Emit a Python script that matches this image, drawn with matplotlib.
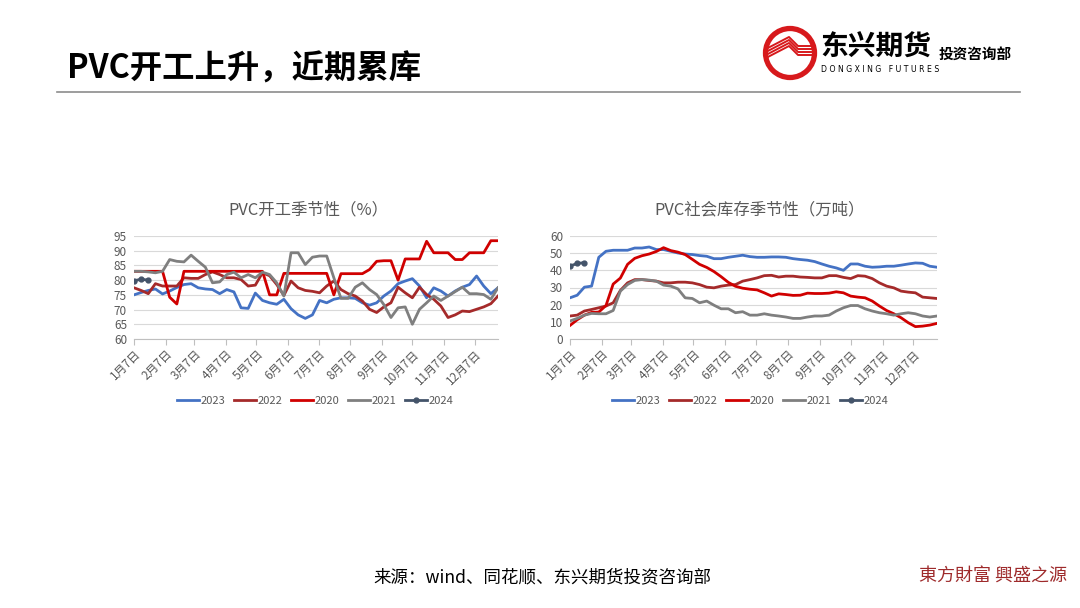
import numpy as np
import matplotlib
matplotlib.use("Agg")
import matplotlib.pyplot as plt
from matplotlib.patches import Circle

plt.rcParams['font.family'] = ['Noto Sans CJK SC', 'DejaVu Sans']

# x axis: weeks counted in days from 1月7日
week_days = np.arange(52) * 7
month_ticks = [0, 31, 59, 90, 120, 151, 181, 212, 243, 273, 304, 334]
month_labels = ['1月7日', '2月7日', '3月7日', '4月7日', '5月7日', '6月7日',
                '7月7日', '8月7日', '9月7日', '10月7日', '11月7日', '12月7日']

years = ['2023', '2022', '2020', '2021', '2024']
colors = ['#4472C4', '#A52A2A', '#D00000', '#7F7F7F', '#44546A']

# PVC开工率 (%)
op_2023 = [75.0, 75.8, 76.5, 77.0, 75.3, 76.3, 77.5, 78.5, 78.8, 77.4,
           77.0, 76.8, 75.4, 76.8, 76.0, 70.6, 70.4, 75.6, 73.1, 72.3,
           71.8, 73.5, 70.3, 68.2, 67.0, 68.2, 73.1, 72.3, 73.5, 74.0,
           74.0, 73.8, 72.3, 71.5, 72.3, 74.6, 76.3, 78.8, 79.7, 80.5,
           78.0, 74.0, 77.4, 76.3, 74.6, 76.3, 77.6, 78.5, 81.4, 78.0,
           75.4, 77.4]
op_2022 = [77.4, 76.5, 75.4, 78.8, 78.0, 78.0, 78.0, 80.8, 80.6, 80.6,
           81.9, 82.8, 81.9, 80.8, 80.8, 80.2, 78.0, 78.3, 82.5, 81.5,
           78.5, 74.8, 79.7, 77.4, 76.5, 76.2, 75.7, 78.0, 79.7, 76.8,
           75.4, 74.6, 72.9, 70.1, 69.0, 70.9, 72.3, 77.6, 75.7, 74.0,
           77.6, 75.1, 73.5, 71.2, 67.3, 68.2, 69.5, 69.3, 70.1, 70.9,
           72.0, 74.6]
op_2020 = [83.0, 83.0, 83.0, 83.0, 83.0, 74.2, 71.9, 83.0, 83.0, 83.0,
           83.0, 83.0, 83.0, 83.0, 83.0, 83.0, 83.0, 83.0, 83.0, 75.0,
           75.0, 82.3, 82.3, 82.3, 82.3, 82.3, 82.3, 82.3, 75.0, 82.2,
           82.2, 82.2, 82.2, 83.6, 86.4, 86.6, 86.6, 80.0, 87.2, 87.2,
           87.2, 93.2, 89.3, 89.3, 89.3, 87.0, 87.0, 89.3, 89.3, 89.3,
           93.4, 93.4]
op_2021 = [83.0, 83.0, 82.8, 82.5, 83.0, 87.0, 86.4, 86.2, 88.5, 86.4,
           84.4, 79.1, 79.4, 81.9, 82.7, 80.8, 81.9, 80.8, 82.7, 81.9,
           79.1, 74.6, 89.3, 89.3, 85.3, 87.8, 88.2, 88.2, 80.8, 73.8,
           73.8, 77.6, 79.1, 76.8, 75.1, 71.7, 67.3, 70.6, 70.9, 65.0,
           70.1, 72.3, 74.6, 73.1, 74.6, 76.1, 77.6, 75.4, 75.4, 75.1,
           73.5, 77.4]
op_2024 = [79.8, 80.3, 80.0]

# PVC社会库存 (万吨)
inv_2023 = [24.0, 25.5, 30.2, 30.8, 47.6, 51.1, 51.7, 51.7, 51.7, 53.0,
            53.0, 53.6, 52.1, 52.1, 51.1, 50.1, 49.5, 49.2, 48.6, 48.2,
            46.8, 46.8, 47.6, 48.2, 48.8, 48.0, 47.6, 47.6, 47.8, 47.8,
            47.6, 46.8, 46.3, 45.9, 45.1, 43.7, 42.4, 41.4, 40.0, 43.7,
            43.7, 42.4, 41.8, 42.0, 42.4, 42.4, 43.0, 43.7, 44.3, 44.1,
            42.4, 41.8]
inv_2022 = [13.4, 13.9, 16.3, 17.2, 18.2, 19.2, 21.1, 28.3, 32.7, 34.6,
            34.6, 34.1, 33.7, 32.7, 32.7, 33.1, 33.1, 32.7, 31.7, 30.2,
            29.8, 30.8, 31.4, 31.7, 33.7, 34.6, 35.6, 36.9, 37.1, 36.1,
            36.6, 36.6, 36.1, 35.9, 35.6, 35.6, 36.9, 36.9, 35.9, 35.2,
            36.9, 36.6, 35.2, 32.7, 30.8, 29.8, 27.9, 27.3, 26.9, 24.4,
            24.0, 23.6]
inv_2020 = [7.9, 11.2, 13.9, 15.5, 15.7, 19.5, 32.0, 35.5, 43.5, 47.0,
            48.5, 49.5, 51.0, 53.2, 51.5, 50.6, 49.2, 46.4, 43.5, 41.7,
            39.3, 36.3, 33.0, 30.7, 29.6, 29.0, 28.6, 26.9, 25.0, 26.3,
            25.9, 25.4, 25.5, 26.7, 26.5, 26.5, 26.7, 27.5, 26.9, 25.0,
            24.4, 24.0, 22.1, 19.2, 16.6, 14.7, 12.4, 9.5, 7.2, 7.5,
            8.1, 9.1]
inv_2021 = [10.5, 12.0, 13.9, 14.9, 14.7, 14.7, 16.6, 27.9, 31.7, 34.1,
            34.6, 34.3, 33.7, 31.4, 30.8, 29.2, 24.0, 23.6, 21.1, 22.1,
            19.7, 17.6, 17.6, 15.3, 15.9, 13.9, 13.9, 14.7, 13.9, 13.4,
            12.8, 12.0, 12.0, 12.8, 13.4, 13.4, 13.9, 16.3, 18.2, 19.5,
            19.5, 17.6, 16.3, 15.3, 14.7, 13.9, 14.7, 15.3, 14.7, 13.4,
            12.8, 13.4]
inv_2024 = [42.5, 44.0, 44.5]

W, H = 1080, 608
fig = plt.figure(figsize=(W / 100, H / 100), dpi=100)
fig.patch.set_facecolor('white')

txt_gray = '#595959'


def px_axes(x0, y0, x1, y1):
    # pixel box (top-left origin) -> figure axes
    return fig.add_axes([x0 / W, 1 - y1 / H, (x1 - x0) / W, (y1 - y0) / H])


def seasonal(ax, series, ylim, yticks):
    for name, vals, c in zip(years, series, colors):
        if name == '2024':
            ax.plot(week_days[:len(vals)], vals, color=c, lw=2.0,
                    marker='o', ms=3.5, label=name, zorder=5)
        else:
            ax.plot(week_days[:len(vals)], vals, color=c, lw=2.0, label=name)
    ax.set_xlim(0, 357)
    ax.set_ylim(*ylim)
    ax.set_yticks(yticks)
    ax.set_xticks(month_ticks)
    ax.set_xticklabels(month_labels, rotation=45, ha='right',
                       rotation_mode='anchor')
    ax.grid(axis='y', color='#D9D9D9', lw=0.8)
    ax.set_axisbelow(True)
    for s in ['top', 'right', 'left']:
        ax.spines[s].set_visible(False)
    ax.spines['bottom'].set_color('#BFBFBF')
    ax.tick_params(axis='y', length=0, pad=5, labelsize=8.5, labelcolor=txt_gray)
    ax.tick_params(axis='x', length=4, color='#BFBFBF', pad=2,
                   labelsize=8.5, labelcolor=txt_gray)


ax1 = px_axes(134, 236, 498, 339)
seasonal(ax1, [op_2023, op_2022, op_2020, op_2021, op_2024],
         (60, 95), np.arange(60, 96, 5))
ax2 = px_axes(570, 236, 937, 339)
seasonal(ax2, [inv_2023, inv_2022, inv_2020, inv_2021, inv_2024],
         (0, 60), np.arange(0, 61, 10))

fig.text(308 / W, 1 - 210 / H, 'PVC开工季节性（%）', ha='center', va='center',
         fontsize=11.8, color=txt_gray)
fig.text(760 / W, 1 - 210 / H, 'PVC社会库存季节性（万吨）', ha='center',
         va='center', fontsize=11.8, color=txt_gray)

for ax, cx in [(ax1, 315), (ax2, 750)]:
    h, l = ax.get_legend_handles_labels()
    fig.legend(h, l, loc='center', bbox_to_anchor=(cx / W, 1 - 401 / H),
               ncol=5, frameon=False, fontsize=8.0, handlelength=2.0,
               handletextpad=0.15, columnspacing=0.75, labelcolor=txt_gray)

# overlay for header / footer decorations in pixel coordinates
ov = fig.add_axes([0, 0, 1, 1], zorder=-1)
ov.set_xlim(0, W)
ov.set_ylim(H, 0)
ov.axis('off')

ov.plot([57, 1020], [92, 92], color='#8C8C8C', lw=1.2)
ov.text(67, 69, 'PVC开工上升，近期累库', ha='left', va='center',
        fontsize=23.3, fontweight='bold', color='black')

# logo
logo_red = '#D7191C'
ring = Circle((790, 53), 24.5, fill=False, ec=logo_red, lw=3.8)
ov.add_patch(ring)
clip = Circle((790, 53), 23, transform=ov.transData)
for k in range(4):
    line, = ov.plot([764, 789, 798, 816], [50 + 3 * k, 37 + 3 * k, 46 + 3 * k, 46 + 3 * k],
                    color=logo_red, lw=1.4, solid_capstyle='butt')
    line.set_clip_path(clip)
ov.text(820, 48, '东兴期货', ha='left', va='center', fontsize=20,
        fontweight='bold', color='black')
ov.text(821, 69, 'D O N G X I N G   F U T U R E S', ha='left', va='center',
        fontsize=5.6, color='black', family=['DejaVu Sans'])
ov.text(939, 55, '投资咨询部', ha='left', va='center', fontsize=10.5,
        fontweight='bold', color='black')

# footer
ov.text(373, 577, '来源：wind、同花顺、东兴期货投资咨询部', ha='left', va='center',
        fontsize=12.6, color='black')
ov.text(1067, 577, '東方財富 興盛之源', ha='right', va='center', fontsize=13,
        color='#9E2A2B', family=['Noto Sans CJK TC', 'DejaVu Sans'])

fig.savefig('out.png', dpi=100, facecolor='white')
